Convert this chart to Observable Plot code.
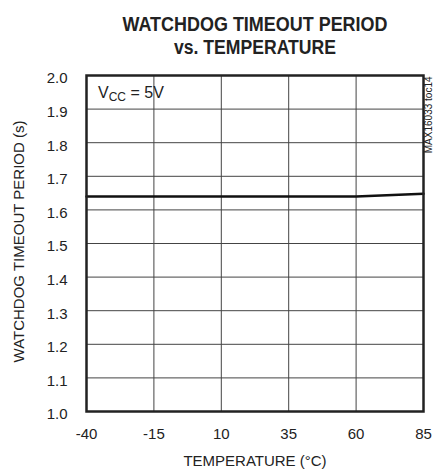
<!DOCTYPE html>
<html>
<head>
<meta charset="utf-8">
<script src="https://cdn.jsdelivr.net/npm/d3@7"></script>
<script src="https://cdn.jsdelivr.net/npm/@observablehq/plot@0.6"></script>
<style>
  html, body { margin: 0; padding: 0; background: #fff; }
</style>
</head>
<body>
<div id="chart"></div>
<script>
// ---- data ----
const temperatures = [-40, -15, 10, 35, 60, 85];
const periods = [1.64, 1.64, 1.64, 1.64, 1.64, 1.648];
const xTicks = [-40, -15, 10, 35, 60, 85];
const yTicks = [1.0, 1.1, 1.2, 1.3, 1.4, 1.5, 1.6, 1.7, 1.8, 1.9, 2.0];
const titleLines = ["WATCHDOG TIMEOUT PERIOD", "vs. TEMPERATURE"];
const xLabel = "TEMPERATURE (°C)";
const yLabel = "WATCHDOG TIMEOUT PERIOD (s)";
const sideNote = "MAX16033 toc14";
const conditionLabel = ["V", "CC", " = 5V"];

const data = temperatures.map((t, i) => ({t, p: periods[i]}));
const ink = "#222";
const font = "'Liberation Sans', Arial, sans-serif";

const chart = Plot.plot({
  width: 442,
  height: 472,
  marginLeft: 86,
  marginRight: 19,
  marginTop: 75,
  marginBottom: 61,
  style: {fontFamily: font, fontSize: "15px", color: ink, background: "#fff"},
  x: {domain: [-40, 85]},
  y: {domain: [1.0, 2.0]},
  marks: [
    Plot.gridX(xTicks, {stroke: "#444", strokeOpacity: 1, strokeWidth: 1}),
    Plot.gridY(yTicks, {stroke: "#444", strokeOpacity: 1, strokeWidth: 1}),
    Plot.axisX(xTicks, {tickSize: 0, tickPadding: 17, label: null, fontSize: 15, fill: ink, tickFormat: d => String(d)}),
    Plot.axisY(yTicks, {tickSize: 0, tickPadding: 19, dy: 3, label: null, fontSize: 15, fill: ink, tickFormat: d3.format(".1f")}),
    Plot.line(data, {x: "t", y: "p", stroke: "#111", strokeWidth: 2.5}),
    Plot.frame({stroke: ink, strokeWidth: 2.5}),
    Plot.text([xLabel], {frameAnchor: "bottom", dy: 49.5, lineAnchor: "middle", fontSize: 15, fill: ink}),
    Plot.text([yLabel], {frameAnchor: "left", rotate: -90, dx: -67, dy: -2, textAnchor: "middle", lineAnchor: "middle", fontSize: 15, fill: ink}),
    Plot.text([sideNote], {frameAnchor: "top-right", rotate: -90, dx: 5, dy: 1, textAnchor: "end", lineAnchor: "middle", fontSize: 10, fill: ink}),
    Plot.text([titleLines[0]], {frameAnchor: "top", dy: -50.5, lineAnchor: "middle", fontSize: 20, fontWeight: "bold", fill: ink, className: "title1"}),
    Plot.text([titleLines[1]], {frameAnchor: "top", dy: -27.5, lineAnchor: "middle", fontSize: 20, fontWeight: "bold", fill: ink, className: "title2"}),
    // condition label with subscript
    (index, scales, values, dimensions) => {
      const g = d3.create("svg:g");
      const x0 = dimensions.marginLeft + 12;
      const y0 = dimensions.marginTop + 23;
      const t = g.append("text")
        .attr("x", x0).attr("y", y0)
        .attr("fill", ink)
        .attr("font-family", font)
        .attr("font-size", 16)
        .attr("text-anchor", "start");
      t.append("tspan").text(conditionLabel[0]);
      t.append("tspan").attr("font-size", 12).attr("dy", 3).text(conditionLabel[1]);
      t.append("tspan").attr("dy", -3).text(conditionLabel[2]);
      return g.node();
    }
  ]
});

d3.select(chart).select(".title1 text").attr("textLength", 265).attr("lengthAdjust", "spacingAndGlyphs");
d3.select(chart).select(".title2 text").attr("textLength", 162).attr("lengthAdjust", "spacingAndGlyphs");

document.getElementById("chart").appendChild(chart);
</script>
</body>
</html>
